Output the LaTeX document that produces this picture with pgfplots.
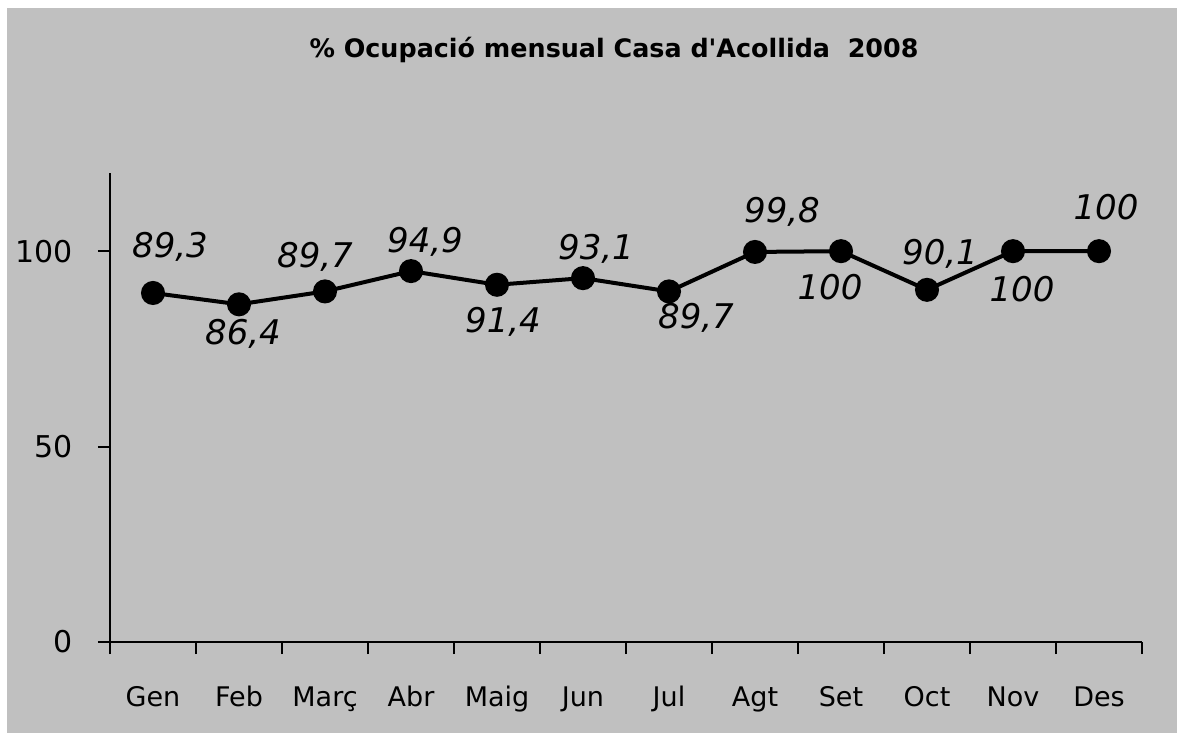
\documentclass[border=0pt]{standalone}
\usepackage{pgfplots}
\pgfplotsset{compat=1.18}
\usepackage{pgfplotstable}
\usepackage{fontspec}
\setmainfont{DejaVu Sans}[Ligatures=TeXOff]
\definecolor{bg}{HTML}{C0C0C0}

\pgfplotstableread{
x y dx dy lab
1 89.3 8.5 23 89,3
2 86.4 2 -15 86,4
3 89.7 -5 17.5 89,7
4 94.9 7 14.5 94,9
5 91.4 3 -18.5 91,4
6 93.1 6.5 14.5 93,1
7 89.7 13.5 -13 89,7
8 99.8 13.5 20 99,8
9 100 -5.5 -18 100
10 90.1 6.5 18 90,1
11 100 4.5 -19 100
12 100 3.5 22 100
}\data

\begin{document}
\begin{tikzpicture}
\path[use as bounding box, fill=white] (-55pt,-45.5pt) rectangle (533.5pt,321pt);
\fill[bg] (-51.5pt,-45.5pt) rectangle (533.5pt,317pt);
\node[font=\fontsize{12.7}{15}\selectfont\bfseries] at (252pt,296pt) {\% Ocupació mensual Casa d'Acollida\ \ 2008};
\begin{axis}[
  at={(0pt,0pt)}, anchor=south west,
  scale only axis,
  width=516pt, height=234.5pt,
  xmin=0.5, xmax=12.5, ymin=0, ymax=120,
  axis lines*=left,
  axis line style={line width=1pt},
  xtick={1,...,12},
  xticklabels={Gen,Feb,Març,Abr,Maig,Jun,Jul,Agt,Set,Oct,Nov,Des},
  major x tick style={draw=none},
  minor xtick={0.5,1.5,...,12.5},
  ytick={0,50,100},
  tick align=outside,
  major tick length=6pt, minor tick length=6pt,
  every tick/.style={black, line width=1pt},
  xticklabel style={yshift=-14pt, font=\fontsize{13.5}{15}\selectfont, text height=1.6ex, text depth=0.5ex},
  yticklabel style={xshift=-9pt, font=\fontsize{15}{17}\selectfont},
  /pgf/number format/assume math mode=true,
  clip=false,
]
\addplot[black, line width=2pt, mark=*, mark size=5pt,
  point meta=explicit symbolic,
  visualization depends on={\thisrow{dx}\as\dx},
  visualization depends on={\thisrow{dy}\as\dy},
  nodes near coords,
  every node near coord/.append style={anchor=center, xshift=\dx pt, yshift=\dy pt, font=\fontsize{17}{19}\selectfont\itshape, inner sep=0pt},
] table[x=x, y=y, meta=lab] {\data};
\end{axis}
\end{tikzpicture}
\end{document}
